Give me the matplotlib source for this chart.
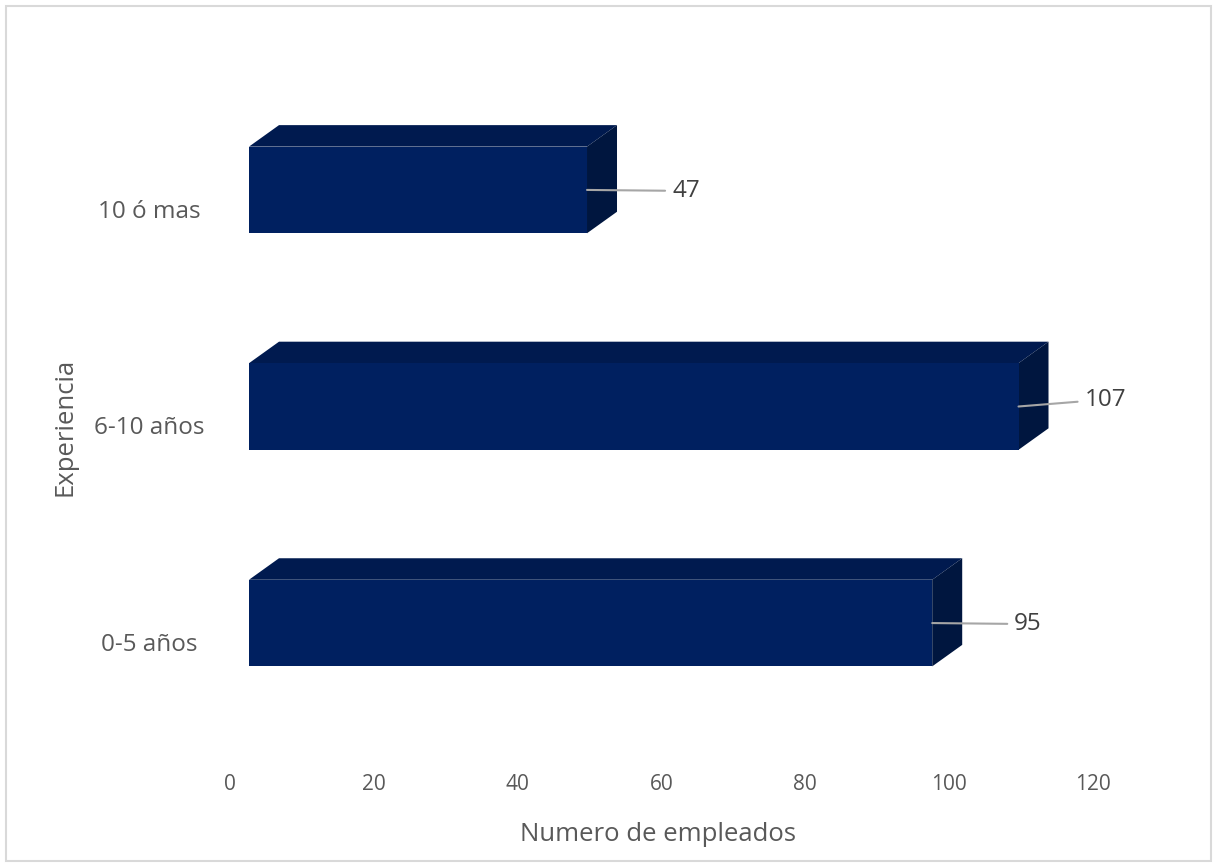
import matplotlib
matplotlib.use('Agg')
import matplotlib.pyplot as plt
import matplotlib.transforms as mtransforms
from matplotlib.patches import Polygon, Rectangle

categorias = ['0-5 años', '6-10 años', '10 ó mas']
empleados = [95, 107, 47]
xticks = [0, 20, 40, 60, 80, 100, 120]

plt.rcParams['font.family'] = ['Open Sans', 'DejaVu Sans']
gris = '#595959'
frente = '#002060'
arriba = '#001a4f'
lado = '#00163f'

W, H = 1218, 867
fig = plt.figure(figsize=(W / 100, H / 100), dpi=100)
# axes placed so the front faces start at x=249px
ax = fig.add_axes([249 / W, (H - 753) / H, 863 / W, 693 / H])
ax.set_xlim(0, 120)
ax.set_ylim(-0.6, 2.6)
for s in ax.spines.values():
    s.set_visible(False)

ypos = list(range(len(categorias)))
alto = 0.4
ax.barh(ypos, empleados, height=alto, color=frente, zorder=3)

# depth of the 3d look, in pixels -> data units
px_x = 120 / 863
px_y = 3.2 / 693
dx, dy = 30 * px_x, 21.5 * px_y
for y, v in zip(ypos, empleados):
    top = y + alto / 2
    bot = y - alto / 2
    ax.add_patch(Polygon([(0, top), (v, top), (v + dx, top + dy), (dx, top + dy)],
                         closed=True, facecolor=arriba, edgecolor='none', zorder=2, clip_on=False))
    ax.add_patch(Polygon([(v, bot), (v, top), (v + dx, top + dy), (v + dx, bot + dy)],
                         closed=True, facecolor=lado, edgecolor='none', zorder=2, clip_on=False))

# value labels with leader lines
offsets = {95: (82, -1), 107: (66, 7), 47: (85, -1)}
for y, v in zip(ypos, empleados):
    ox, oy = offsets[v]
    ax.annotate(str(v), xy=(v, y), xytext=(ox, oy), textcoords='offset pixels',
                ha='left', va='center', fontsize=17.5, color='#404040',
                arrowprops=dict(arrowstyle='-', color='#a6a6a6', lw=1.5,
                                shrinkA=3, shrinkB=0), zorder=4)

ax.set_xticks(xticks)
ax.set_xticklabels([str(t) for t in xticks], fontsize=15, color=gris)
ax.tick_params(axis='x', length=0, pad=15)
shift_x = mtransforms.ScaledTranslation(-19 / 100, 0, fig.dpi_scale_trans)
for lab in ax.get_xticklabels():
    lab.set_transform(lab.get_transform() + shift_x)

ax.set_yticks(ypos)
ax.set_yticklabels(categorias, fontsize=17.5, color=gris, ha='center')
ax.tick_params(axis='y', length=0, pad=72)
shift_y = mtransforms.ScaledTranslation(0, -19 / 100, fig.dpi_scale_trans)
for lab in ax.get_yticklabels():
    lab.set_transform(lab.get_transform() + shift_y)

ax.set_xlabel('Numero de empleados', fontsize=18.5, color=gris)
ax.xaxis.set_label_coords((658 - 249) / 863, (753 - 822) / 693)
ax.set_ylabel('Experiencia', fontsize=18.5, color=gris)
ax.yaxis.set_label_coords((78 - 249) / 863, (753 - 427) / 693)

fig.patches.append(Rectangle((6 / W, 6 / H), 1205 / W, 855 / H, transform=fig.transFigure,
                             fill=False, edgecolor='#d9d9d9', lw=1.5))

fig.savefig('out.png', dpi=100)
